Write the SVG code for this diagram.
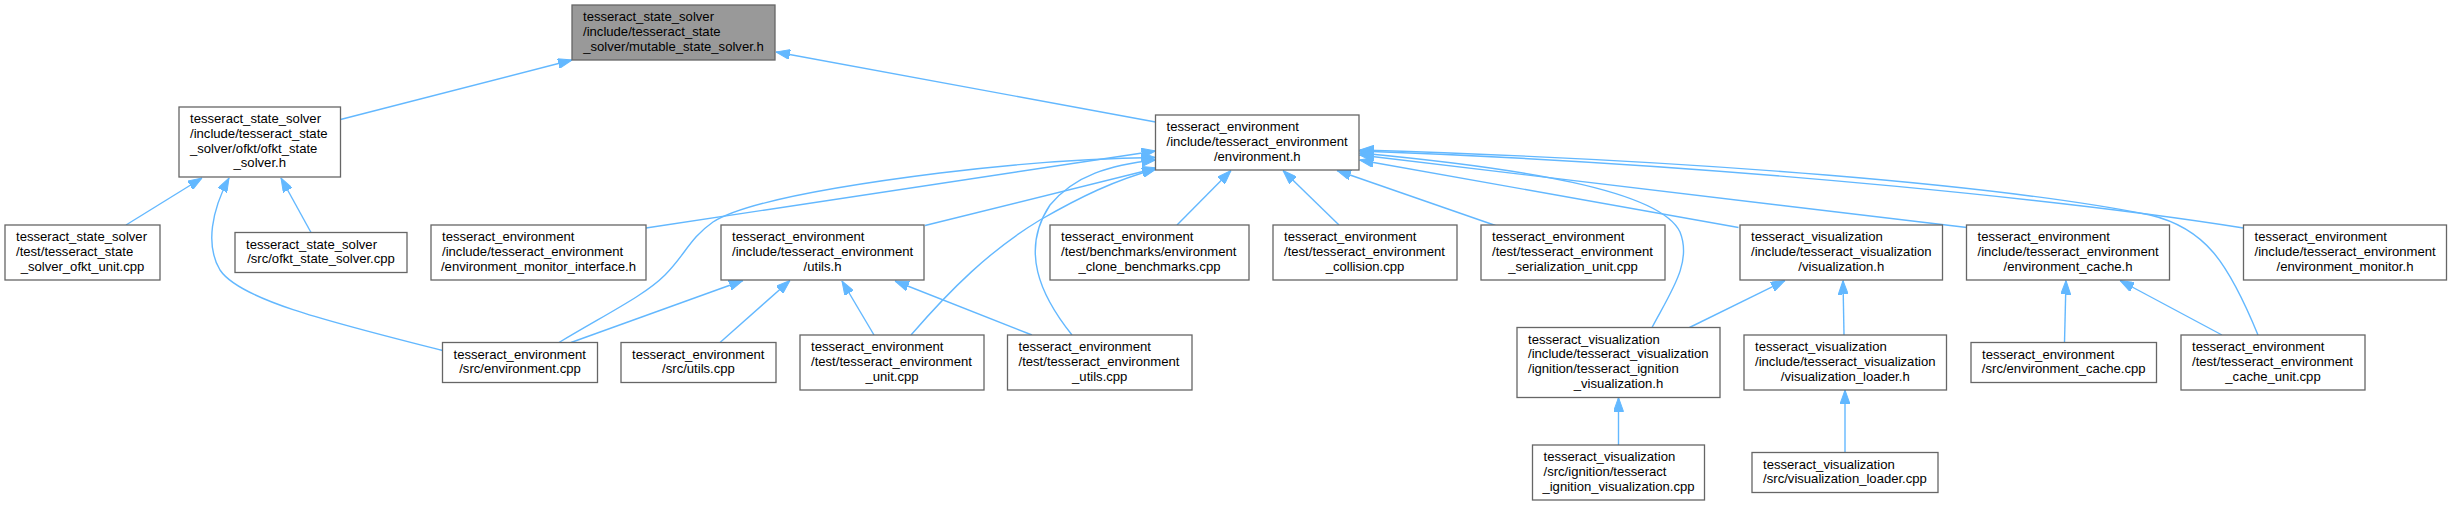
<svg xmlns="http://www.w3.org/2000/svg" width="2452" height="505" viewBox="0 0 2452 505">
<style>
.node rect{fill:#ffffff;stroke:#666666;stroke-width:1.3}
.node.main rect{fill:#999999}
.node text{font-family:"Liberation Sans",Arial,Helvetica,sans-serif;font-size:13.1px;fill:#000000}
.node text.c{text-anchor:middle}
.edges path{fill:none;stroke:#63b8ff;stroke-width:1.4;marker-end:url(#ah)}
</style>
<defs>
<marker id="ah" markerUnits="userSpaceOnUse" viewBox="0 0 14 10" markerWidth="14" markerHeight="10" refX="14" refY="5" orient="auto">
<path d="M0,0 L14,5 L0,10 z" fill="#63b8ff" stroke="#63b8ff" stroke-width="1"/>
</marker>
</defs>
<rect x="0" y="0" width="2452" height="505" fill="#ffffff"/>
<g class="edges">
<path d="M340.5,119.5 L572,60"/>
<path d="M1155.5,122 L776,52"/>
<path d="M126,225 L202,178"/>
<path d="M311,232.5 L281,178"/>
<path d="M442.5,350.5 C330,322 240,300 220,270 C205,245 212,210 229,178"/>
<path d="M571,342.5 L743,280.5"/>
<path d="M559,342.5 C610,312 645,295 665,275 C685,255 690,238 713,222 C740,205 820,188 940,173 C1030,162 1100,158 1155.5,157.5"/>
<path d="M646,228 L1155.5,151"/>
<path d="M925,225.5 L1157,168"/>
<path d="M911,335 C950,290 990,250 1040,220 C1080,197 1115,180 1156,169"/>
<path d="M1072,335 C1040,295 1020,250 1050,205 C1075,175 1110,165 1155.5,160"/>
<path d="M720,342.5 L790,280.5"/>
<path d="M874,335 L842,281"/>
<path d="M1032,335 L895,281"/>
<path d="M1177,225 L1231,170.5"/>
<path d="M1339,225 L1283,170.5"/>
<path d="M1495.5,225.5 L1337,170.5"/>
<path d="M1738.5,227.5 L1359.5,160"/>
<path d="M1967,227.5 L1359.5,155"/>
<path d="M2243.5,228 C2100,205 1750,165 1359.5,151"/>
<path d="M2258,335 C2228,262 2205,228 2150,215 C2000,185 1700,160 1359.5,150"/>
<path d="M1652,327.5 C1672,290 1692,262 1680,232 C1660,190 1520,168 1359.5,153"/>
<path d="M1689.5,327.5 L1785,280.5"/>
<path d="M1844,335 L1843,280.5"/>
<path d="M1618.5,445 L1618.5,397.5"/>
<path d="M1845,452.5 L1845,390"/>
<path d="M2064.5,342.5 L2066,280.5"/>
<path d="M2222,335 L2120,280.5"/>
</g>
<g id="n_mut" class="node main">
<rect x="572" y="5" width="203" height="55"/>
<text x="583" y="21.3">tesseract_state_solver</text>
<text x="583" y="35.9">/include/tesseract_state</text>
<text class="c" x="673.5" y="50.5">_solver/mutable_state_solver.h</text>
</g>
<g id="n_ofkt_h" class="node">
<rect x="179" y="107" width="161.5" height="70"/>
<text x="190" y="123.3">tesseract_state_solver</text>
<text x="190" y="137.9">/include/tesseract_state</text>
<text x="190" y="152.5">_solver/ofkt/ofkt_state</text>
<text class="c" x="259.75" y="167.1">_solver.h</text>
</g>
<g id="n_ofkt_unit" class="node">
<rect x="5" y="225" width="155" height="55"/>
<text x="16" y="241.3">tesseract_state_solver</text>
<text x="16" y="255.9">/test/tesseract_state</text>
<text class="c" x="82.5" y="270.5">_solver_ofkt_unit.cpp</text>
</g>
<g id="n_ofkt_cpp" class="node">
<rect x="235" y="232.5" width="172" height="40"/>
<text x="246" y="248.8">tesseract_state_solver</text>
<text class="c" x="321" y="263.4">/src/ofkt_state_solver.cpp</text>
</g>
<g id="n_mon_if" class="node">
<rect x="431" y="225" width="215" height="55"/>
<text x="442" y="241.3">tesseract_environment</text>
<text x="442" y="255.9">/include/tesseract_environment</text>
<text class="c" x="538.5" y="270.5">/environment_monitor_interface.h</text>
</g>
<g id="n_utils_h" class="node">
<rect x="721" y="225" width="203" height="55"/>
<text x="732" y="241.3">tesseract_environment</text>
<text x="732" y="255.9">/include/tesseract_environment</text>
<text class="c" x="822.5" y="270.5">/utils.h</text>
</g>
<g id="n_env_h" class="node">
<rect x="1155.5" y="115" width="203.5" height="55"/>
<text x="1166.5" y="131.3">tesseract_environment</text>
<text x="1166.5" y="145.9">/include/tesseract_environment</text>
<text class="c" x="1257.25" y="160.5">/environment.h</text>
</g>
<g id="n_clone" class="node">
<rect x="1050" y="225" width="199" height="55"/>
<text x="1061" y="241.3">tesseract_environment</text>
<text x="1061" y="255.9">/test/benchmarks/environment</text>
<text class="c" x="1149.5" y="270.5">_clone_benchmarks.cpp</text>
</g>
<g id="n_collision" class="node">
<rect x="1273" y="225" width="184" height="55"/>
<text x="1284" y="241.3">tesseract_environment</text>
<text x="1284" y="255.9">/test/tesseract_environment</text>
<text class="c" x="1365" y="270.5">_collision.cpp</text>
</g>
<g id="n_serial" class="node">
<rect x="1481" y="225" width="184" height="55"/>
<text x="1492" y="241.3">tesseract_environment</text>
<text x="1492" y="255.9">/test/tesseract_environment</text>
<text class="c" x="1573" y="270.5">_serialization_unit.cpp</text>
</g>
<g id="n_vis_h" class="node">
<rect x="1740" y="225" width="202.5" height="55"/>
<text x="1751" y="241.3">tesseract_visualization</text>
<text x="1751" y="255.9">/include/tesseract_visualization</text>
<text class="c" x="1841.25" y="270.5">/visualization.h</text>
</g>
<g id="n_cache_h" class="node">
<rect x="1966.5" y="225" width="203" height="55"/>
<text x="1977.5" y="241.3">tesseract_environment</text>
<text x="1977.5" y="255.9">/include/tesseract_environment</text>
<text class="c" x="2068" y="270.5">/environment_cache.h</text>
</g>
<g id="n_mon" class="node">
<rect x="2243.5" y="225" width="203" height="55"/>
<text x="2254.5" y="241.3">tesseract_environment</text>
<text x="2254.5" y="255.9">/include/tesseract_environment</text>
<text class="c" x="2345" y="270.5">/environment_monitor.h</text>
</g>
<g id="n_env_cpp" class="node">
<rect x="442.5" y="342.5" width="155" height="40"/>
<text x="453.5" y="358.8">tesseract_environment</text>
<text class="c" x="520" y="373.4">/src/environment.cpp</text>
</g>
<g id="n_utils_cpp" class="node">
<rect x="621" y="342.5" width="155" height="40"/>
<text x="632" y="358.8">tesseract_environment</text>
<text class="c" x="698.5" y="373.4">/src/utils.cpp</text>
</g>
<g id="n_env_unit" class="node">
<rect x="800" y="335" width="184" height="55"/>
<text x="811" y="351.3">tesseract_environment</text>
<text x="811" y="365.9">/test/tesseract_environment</text>
<text class="c" x="892" y="380.5">_unit.cpp</text>
</g>
<g id="n_env_utils" class="node">
<rect x="1007.5" y="335" width="184.5" height="55"/>
<text x="1018.5" y="351.3">tesseract_environment</text>
<text x="1018.5" y="365.9">/test/tesseract_environment</text>
<text class="c" x="1099.75" y="380.5">_utils.cpp</text>
</g>
<g id="n_ign_h" class="node">
<rect x="1517" y="327.5" width="203" height="70"/>
<text x="1528" y="343.8">tesseract_visualization</text>
<text x="1528" y="358.4">/include/tesseract_visualization</text>
<text x="1528" y="373">/ignition/tesseract_ignition</text>
<text class="c" x="1618.5" y="387.6">_visualization.h</text>
</g>
<g id="n_vl_h" class="node">
<rect x="1744" y="335" width="202.5" height="55"/>
<text x="1755" y="351.3">tesseract_visualization</text>
<text x="1755" y="365.9">/include/tesseract_visualization</text>
<text class="c" x="1845.25" y="380.5">/visualization_loader.h</text>
</g>
<g id="n_ign_cpp" class="node">
<rect x="1532.5" y="445" width="172" height="55"/>
<text x="1543.5" y="461.3">tesseract_visualization</text>
<text x="1543.5" y="475.9">/src/ignition/tesseract</text>
<text class="c" x="1618.5" y="490.5">_ignition_visualization.cpp</text>
</g>
<g id="n_vl_cpp" class="node">
<rect x="1752" y="452.5" width="186" height="40"/>
<text x="1763" y="468.8">tesseract_visualization</text>
<text class="c" x="1845" y="483.4">/src/visualization_loader.cpp</text>
</g>
<g id="n_cache_cpp" class="node">
<rect x="1971" y="342.5" width="185.5" height="40"/>
<text x="1982" y="358.8">tesseract_environment</text>
<text class="c" x="2063.75" y="373.4">/src/environment_cache.cpp</text>
</g>
<g id="n_cache_unit" class="node">
<rect x="2181" y="335" width="184" height="55"/>
<text x="2192" y="351.3">tesseract_environment</text>
<text x="2192" y="365.9">/test/tesseract_environment</text>
<text class="c" x="2273" y="380.5">_cache_unit.cpp</text>
</g>
</svg>
